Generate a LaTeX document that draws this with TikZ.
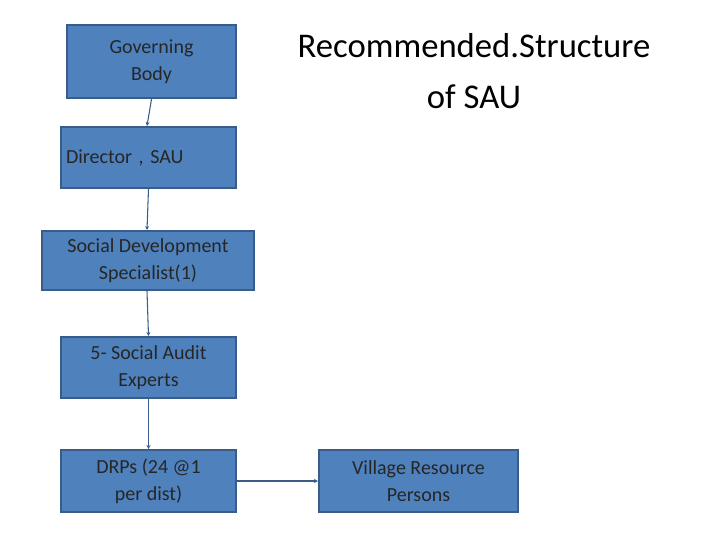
\documentclass[tikz,border=0pt]{standalone}
\usepackage{fontspec}
\setmainfont{Carlito}
\usetikzlibrary{arrows.meta}
\definecolor{boxfill}{HTML}{4F81BD}
\definecolor{boxline}{HTML}{385D8A}
\begin{document}
\begin{tikzpicture}[x=0.75pt,y=-0.75pt,
  box/.style={draw=boxline,line width=1.5pt,fill=boxfill,align=center,font=\fontsize{15}{20}\selectfont,text=black!85,inner sep=0pt},
  conn/.style={draw=boxline,line width=0.8pt,-{Stealth[length=3pt,width=3pt]}}]
\useasboundingbox (0,0) rectangle (720,540);
\node[box,minimum width=169*0.75pt,minimum height=73*0.75pt,anchor=north west] (gb) at (66,24) {Governing\\Body};
\node[box,minimum width=175*0.75pt,minimum height=61*0.75pt,anchor=north west,align=left,text width=165*0.75pt] (dir) at (60,126) {Director , SAU};
\node[box,minimum width=212*0.75pt,minimum height=59*0.75pt,anchor=north west] (sds) at (41,230) {Social Development\\Specialist(1)};
\node[box,minimum width=175*0.75pt,minimum height=61*0.75pt,anchor=north west] (sae) at (60,336) {5- Social Audit\\Experts};
\node[box,minimum width=175*0.75pt,minimum height=62*0.75pt,anchor=north west] (drp) at (60,449) {DRPs (24 @1\\per dist)};
\node[box,minimum width=199*0.75pt,minimum height=62*0.75pt,anchor=north west] (vrp) at (318,449) {Village Resource\\Persons};
\node[align=center,font=\fontsize{26}{38}\selectfont] (title) at (474,71) {Recommended.Structure\\of SAU};
\draw[conn] (gb.south) -- (dir.north -| 147,0);
\draw[conn] (dir.south) -- (sds.north -| 147,0);
\draw[conn] (sds.south -| 147,0) -- (sae.north);
\draw[conn] (sae.south) -- (drp.north);
\draw[conn] (drp.east) -- (vrp.west);
\end{tikzpicture}
\end{document}
